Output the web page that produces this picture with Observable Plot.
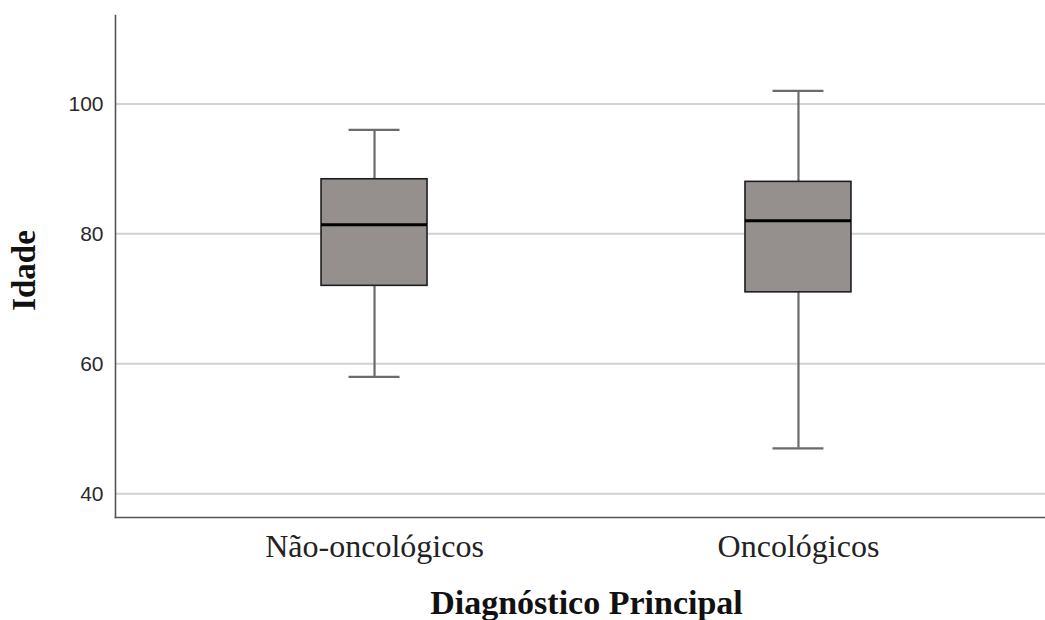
<!DOCTYPE html>
<html>
<head>
<meta charset="utf-8">
<script src="https://cdn.jsdelivr.net/npm/d3@7"></script>
<script src="https://cdn.jsdelivr.net/npm/@observablehq/plot@0.6"></script>
<style>
  html, body { margin: 0; padding: 0; background: #fff; }
</style>
</head>
<body>
<div id="chart"></div>
<script>
// Data
const categories = ["Não-oncológicos", "Oncológicos"];
const whiskerLow  = [58, 47];
const q1          = [72, 71];
const median      = [81.4, 82];
const q3          = [88.4, 88];
const whiskerHigh = [96, 102];
const yTicks = [40, 60, 80, 100];
const yDomain = [36.35, 113.6];
const xTitle = "Diagnóstico Principal";
const yTitle = "Idade";

const rows = categories.map((c, i) => ({
  cat: c, lo: whiskerLow[i], q1: q1[i], med: median[i], q3: q3[i], hi: whiskerHigh[i]
}));

const serif = "'Liberation Serif', 'Times New Roman', serif";

const chart = Plot.plot({
  width: 1045,
  height: 620,
  marginLeft: 115,
  marginRight: 0,
  marginTop: 15,
  marginBottom: 103,
  style: { background: "#fff", overflow: "visible" },
  x: { domain: categories, range: [115, 1057], paddingInner: 0.75, paddingOuter: 0.486, round: false, label: null },
  y: { domain: yDomain, label: null },
  marks: [
    Plot.ruleY(yTicks, { stroke: "#d2d2d2", strokeWidth: 2 }),
    Plot.frame({ anchor: "left", stroke: "#555", strokeWidth: 1.6 }),
    Plot.frame({ anchor: "bottom", stroke: "#555", strokeWidth: 1.6 }),
    Plot.axisY({ ticks: yTicks, tickSize: 0, tickPadding: 12, fontSize: 21, fontFamily: "'Liberation Sans', Arial, sans-serif", color: "#2a2a2a", label: null }),
    Plot.axisX({ tickSize: 0, tickPadding: 17, fontSize: 32, fontFamily: serif, color: "#222", label: null }),
    Plot.ruleX(rows, { x: "cat", y1: "lo", y2: "hi", stroke: "#6b6b6b", strokeWidth: 2.2 }),
    Plot.tickY(rows, { x: "cat", y: "lo", stroke: "#6b6b6b", strokeWidth: 2.2, insetLeft: 27.5, insetRight: 27.5 }),
    Plot.tickY(rows, { x: "cat", y: "hi", stroke: "#6b6b6b", strokeWidth: 2.2, insetLeft: 27.5, insetRight: 27.5 }),
    Plot.barY(rows, { x: "cat", y1: "q1", y2: "q3", fill: "#958f8d", stroke: "#1e1e1e", strokeWidth: 1.6 }),
    Plot.tickY(rows, { x: "cat", y: "med", stroke: "#000", strokeWidth: 3 }),
    Plot.text([xTitle], { frameAnchor: "bottom", dx: 6, dy: 72, lineAnchor: "top", fontSize: 34, fontWeight: "bold", fontFamily: serif, fill: "#111" }),
    Plot.text([yTitle], { frameAnchor: "left", textAnchor: "middle", dx: -91, dy: 4, rotate: -90, lineAnchor: "middle", fontSize: 33, fontWeight: "bold", fontFamily: serif, fill: "#111" })
  ]
});
document.getElementById("chart").appendChild(chart);
</script>
</body>
</html>
